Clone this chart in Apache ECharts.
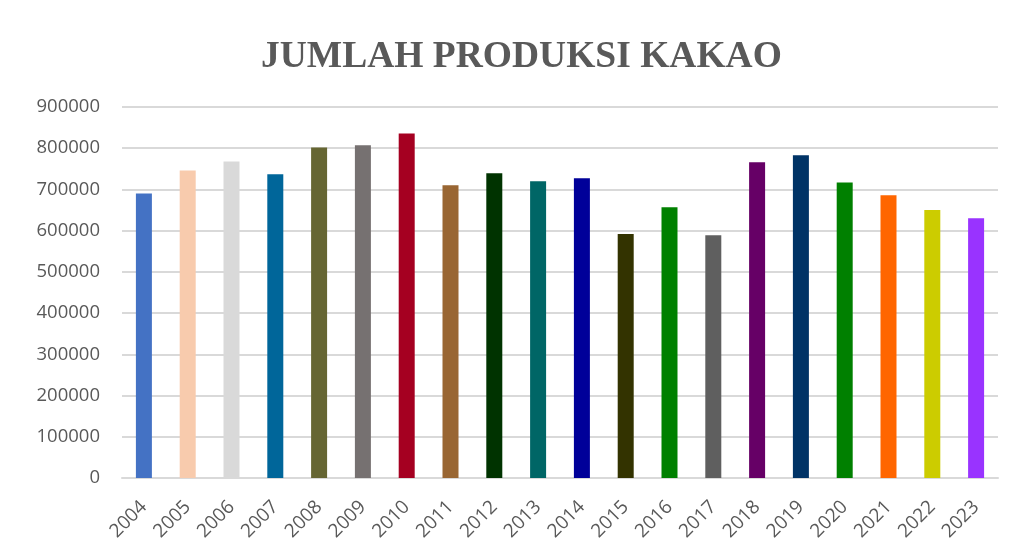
<!DOCTYPE html>
<html>
<head>
<meta charset="utf-8">
<script src="https://cdn.jsdelivr.net/npm/echarts@6/dist/echarts.min.js"></script>
<style>
  html, body { margin: 0; padding: 0; background: #fff; }
  #chart { width: 1014px; height: 560px; }
</style>
</head>
<body>
<div id="chart"></div>
<script>
const years = ['2004', '2005', '2006', '2007', '2008', '2009', '2010', '2011', '2012', '2013',
  '2014', '2015', '2016', '2017', '2018', '2019', '2020', '2021', '2022', '2023']
const produksi = [690000, 746000, 768000, 737000, 802000, 807000, 836000, 710000, 739000, 720000,
  727000, 592000, 657000, 589000, 766000, 783000, 717000, 686000, 650000, 630000]
const barColors = ['#4472C4', '#F8CBAD', '#D9D9D9', '#00669A', '#666633', '#767171', '#A50021', '#996633', '#003300', '#006666',
  '#000099', '#333300', '#008000', '#5F5F5F', '#660066', '#003366', '#008000', '#FF6600', '#CCCC00', '#9933FF']

const chart = echarts.init(document.getElementById('chart'))

const option = {
  animation: false,
  title: {
    text: 'JUMLAH PRODUKSI KAKAO',
    left: 256,
    top: 33,
    textStyle: {
      fontFamily: 'Liberation Serif',
      fontWeight: 'bold',
      fontSize: 37.5,
      color: '#595959',
    },
  },
  grid: {
    left: 122,
    right: 16,
    top: 107,
    bottom: 82,
  },
  xAxis: {
    type: 'category',
    data: years,
    axisLine: { lineStyle: { color: '#D9D9D9', width: 2 } },
    axisTick: { show: false },
    axisLabel: {
      rotate: 45,
      interval: 0,
      margin: 26,
      color: '#595959',
      fontFamily: 'Open Sans',
      fontSize: 19,
    },
  },
  yAxis: {
    type: 'value',
    min: 0,
    max: 900000,
    interval: 100000,
    axisLine: { show: false },
    axisTick: { show: false },
    axisLabel: {
      color: '#595959',
      fontFamily: 'Open Sans',
      fontSize: 18.5,
      margin: 22,
      formatter: v => String(v),
    },
    splitLine: { lineStyle: { color: '#D9D9D9', width: 2 } },
  },
  series: [
    {
      name: 'Produksi',
      type: 'bar',
      barWidth: 16,
      data: produksi.map((value, i) => ({ value, itemStyle: { color: barColors[i] } })),
    },
  ],
}

chart.setOption(option)
</script>
</body>
</html>
